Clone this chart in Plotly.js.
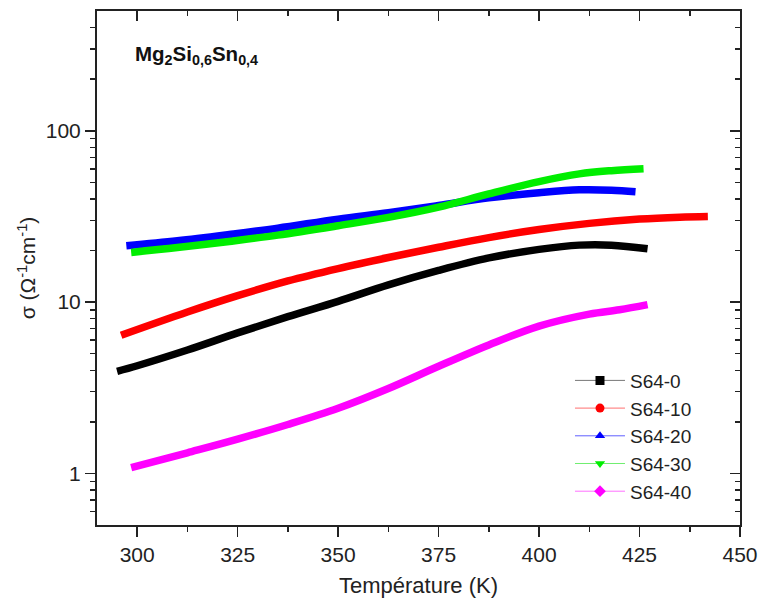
<!DOCTYPE html>
<html>
<head>
<meta charset="utf-8">
<script src="https://cdn.plot.ly/plotly-3.0.1.min.js"></script>
<style>html,body{margin:0;padding:0;background:#fff;}#chart{width:761px;height:598px;}</style>
</head>
<body>
<div id="chart"></div>
<script>
// ---- data ----
const seriesNames = ["S64-0", "S64-10", "S64-20", "S64-30", "S64-40"];

const temp_S64_0  = [295, 300, 312.5, 325, 337.5, 350, 362.5, 375, 387.5, 400, 410, 418, 427];
const sigma_S64_0 = [3.94, 4.25, 5.25, 6.61, 8.22, 10.1, 12.6, 15.3, 18.1, 20.3, 21.5, 21.5, 20.5];

const temp_S64_10  = [296, 312.5, 325, 337.5, 350, 362.5, 375, 387.5, 400, 412.5, 425, 435, 442];
const sigma_S64_10 = [6.4, 8.75, 10.9, 13.3, 15.7, 18.2, 20.9, 23.8, 26.5, 28.8, 30.5, 31.3, 31.6];

const temp_S64_20  = [297.3, 310, 322.9, 335, 350, 362.5, 375, 387.5, 400, 410, 418, 424];
const sigma_S64_20 = [21.3, 22.8, 24.8, 27.0, 30.5, 33.2, 36.6, 40.6, 43.5, 45.2, 45.0, 44.1];

const temp_S64_30  = [298.5, 310, 322.9, 335, 350, 362.5, 375, 387.5, 400, 410, 418, 426];
const sigma_S64_30 = [19.5, 20.8, 22.6, 24.6, 27.9, 31.2, 35.8, 42.8, 50.5, 56.0, 58.5, 60.0];

const temp_S64_40  = [298.5, 312.5, 325, 337.5, 350, 362.5, 375, 387.5, 400, 412.5, 420, 427];
const sigma_S64_40 = [1.08, 1.32, 1.585, 1.93, 2.40, 3.13, 4.22, 5.62, 7.24, 8.51, 9.02, 9.66];

const xTickVals = [300, 325, 350, 375, 400, 425, 450];
const yTickVals = [1, 10, 100];
const yTickText = ["1", "10", "100"];
const yMinorVals = [0.6, 0.7, 0.8, 0.9, 2, 3, 4, 5, 6, 7, 8, 9, 20, 30, 40, 50, 60, 70, 80, 90, 200, 300, 400];

// ---- styling ----
const colors = ["#000000", "#ff0000", "#0000ff", "#00ee00", "#ff00ff"];
const legendLineColors = ["#777777", "#ff7070", "#6060ff", "#70ee70", "#ff70ff"];
const symbols = ["square", "circle", "triangle-up", "triangle-down", "diamond"];
const FONT = "Liberation Sans, Arial, sans-serif";

const xs = [temp_S64_0, temp_S64_10, temp_S64_20, temp_S64_30, temp_S64_40];
const ys = [sigma_S64_0, sigma_S64_10, sigma_S64_20, sigma_S64_30, sigma_S64_40];

const traces = [];
for (let i = 0; i < seriesNames.length; i++) {
  traces.push({
    type: "scatter", mode: "lines", x: xs[i], y: ys[i],
    line: {color: colors[i], width: 7.5, shape: "spline", smoothing: 1},
    showlegend: false, hoverinfo: "skip"
  });
}
for (let i = 0; i < seriesNames.length; i++) {
  traces.push({
    type: "scatter", mode: "lines+markers", x: [null], y: [null], name: seriesNames[i],
    line: {color: legendLineColors[i], width: 1},
    marker: {color: colors[i], symbol: symbols[i], size: 9},
    showlegend: true
  });
}
// empty trace so the mirrored top / right frame axes are drawn
traces.push({type: "scatter", mode: "lines", x: [null], y: [null], xaxis: "x2", yaxis: "y2", showlegend: false, hoverinfo: "skip"});

const xRange = [290, 450];
const yRange = [Math.log10(0.5), Math.log10(500)];

const layout = {
  width: 761, height: 598,
  margin: {l: 97, r: 21, t: 11, b: 73, pad: 0},
  paper_bgcolor: "#ffffff", plot_bgcolor: "#ffffff",
  font: {family: FONT, color: "#222222", size: 21},
  showlegend: true,
  legend: {
    x: 0.7356, y: 0.318, xanchor: "left", yanchor: "top",
    bgcolor: "rgba(0,0,0,0)", borderwidth: 0,
    font: {family: FONT, size: 19, color: "#222222"},
    itemwidth: 50, tracegroupgap: 0
  },
  xaxis: {
    range: xRange, tickmode: "array", tickvals: xTickVals,
    ticks: "outside", ticklen: 10, tickwidth: 1.5, tickcolor: "#222",
    showline: true, linecolor: "#222", linewidth: 2, mirror: false,
    showgrid: false, zeroline: false,
    tickfont: {size: 21, family: FONT, color: "#222"},
    minor: {dtick: 12.5, tick0: 300, ticks: "outside", ticklen: 5, tickwidth: 1.5, tickcolor: "#222", showgrid: false},
    title: {text: "Température (K)", font: {size: 22, family: FONT, color: "#222"}, standoff: 12}
  },
  xaxis2: {
    range: xRange, overlaying: "x", side: "top", anchor: "y2",
    tickmode: "array", tickvals: xTickVals,
    ticks: "inside", ticklen: 10, tickwidth: 1.5, tickcolor: "#222",
    showticklabels: false, showline: true, linecolor: "#222", linewidth: 2,
    showgrid: false, zeroline: false,
    minor: {dtick: 12.5, tick0: 300, ticks: "inside", ticklen: 5, tickwidth: 1.5, tickcolor: "#222", showgrid: false}
  },
  yaxis: {
    type: "log", range: yRange, tickmode: "array", tickvals: yTickVals, ticktext: yTickText,
    ticks: "outside", ticklen: 10, tickwidth: 1.5, tickcolor: "#222",
    showline: true, linecolor: "#222", linewidth: 2,
    showgrid: false, zeroline: false,
    tickfont: {size: 21, family: FONT, color: "#222"},
    minor: {tickmode: "array", tickvals: yMinorVals, ticks: "outside", ticklen: 5, tickwidth: 1.5, tickcolor: "#222", showgrid: false},
    title: {text: "σ (Ω<sup>-1</sup>cm<sup>-1</sup>)", font: {size: 21, family: FONT, color: "#222"}, standoff: 4}
  },
  yaxis2: {
    type: "log", range: yRange, overlaying: "y", side: "right", anchor: "x2",
    tickmode: "array", tickvals: yTickVals,
    ticks: "inside", ticklen: 10, tickwidth: 1.5, tickcolor: "#222",
    showticklabels: false, showline: true, linecolor: "#222", linewidth: 2,
    showgrid: false, zeroline: false,
    minor: {tickmode: "array", tickvals: yMinorVals, ticks: "inside", ticklen: 5, tickwidth: 1.5, tickcolor: "#222", showgrid: false}
  },
  annotations: [{
    xref: "paper", yref: "paper", x: 0.056, y: 0.915, xanchor: "left", yanchor: "middle",
    text: "<b>Mg<sub>2</sub>Si<sub>0,6</sub>Sn<sub>0,4</sub></b>",
    showarrow: false, font: {size: 20.5, family: FONT, color: "#111"}
  }]
};

Plotly.newPlot("chart", traces, layout, {staticPlot: true, displayModeBar: false});
</script>
</body>
</html>
